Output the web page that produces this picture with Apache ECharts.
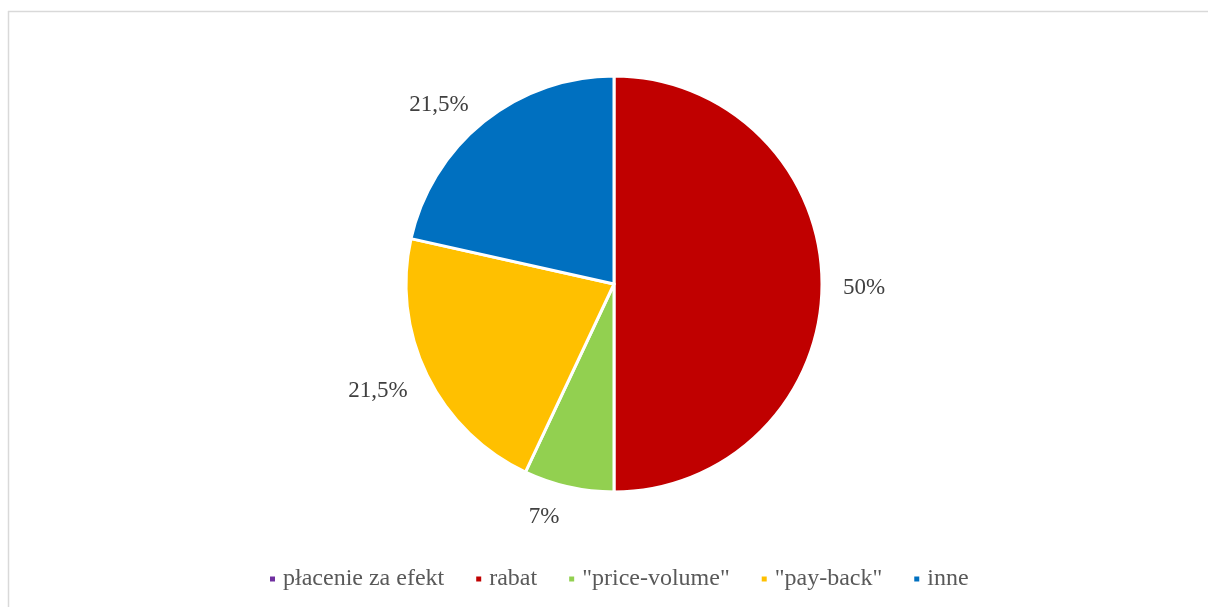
<!DOCTYPE html>
<html>
<head>
<meta charset="utf-8">
<script src="https://cdn.jsdelivr.net/npm/echarts@6/dist/echarts.min.js"></script>
<style>
html,body{margin:0;padding:0;background:#fff;}
#chart{width:1208px;height:607px;}
</style>
</head>
<body>
<div id="chart"></div>
<script>
const categories = ['płacenie za efekt', 'rabat', '"price-volume"', '"pay-back"', 'inne'];
const values = [0, 50, 7, 21.5, 21.5];
const colors = ['#7030A0', '#C00000', '#92D050', '#FFC000', '#0070C0'];

const chart = echarts.init(document.getElementById('chart'));
const font = '"Liberation Serif", "Times New Roman", serif';
chart.setOption({
  animation: false,
  backgroundColor: '#ffffff',
  color: colors,
  graphic: [
    { type: 'line', shape: { x1: 8, y1: 11.5, x2: 1208, y2: 11.5 }, style: { stroke: '#d9d9d9', lineWidth: 1.5 } },
    { type: 'line', shape: { x1: 8.5, y1: 11, x2: 8.5, y2: 607 }, style: { stroke: '#d9d9d9', lineWidth: 1.5 } }
  ],
  legend: {
    bottom: 11,
    left: 263,
    itemWidth: 7,
    itemHeight: 7,
    itemGap: 30,
    icon: 'rect',
    textStyle: { fontFamily: font, fontSize: 24, color: '#595959', padding: [0, 0, 0, 2] },
    data: categories
  },
  series: [{
    type: 'pie',
    center: [614, 284],
    radius: [0, 208],
    startAngle: 90,
    clockwise: true,
    avoidLabelOverlap: false,
    itemStyle: { borderColor: '#ffffff', borderWidth: 3 },
    label: {
      show: true,
      position: 'outside',
      fontFamily: font,
      fontSize: 23,
      color: '#404040',
      formatter: p => p.value === 0 ? '' : String(p.value).replace('.', ',') + '%'
    },
    labelLine: { show: false, length: 15, length2: 1 },
    labelLayout: function (params) {
      const pts = params.labelLinePoints;
      if (!pts || !params.labelRect) return {};
      const vx = pts[1][0] - pts[0][0];
      const vy = pts[1][1] - pts[0][1];
      const len = Math.sqrt(vx * vx + vy * vy) || 1;
      const h = params.labelRect.height;
      return { dy: (h / 2) * (vy / len) + 4 };
    },
    emphasis: { disabled: true },
    data: categories.map((c, i) => ({ name: c, value: values[i] }))
  }]
});
</script>
</body>
</html>
